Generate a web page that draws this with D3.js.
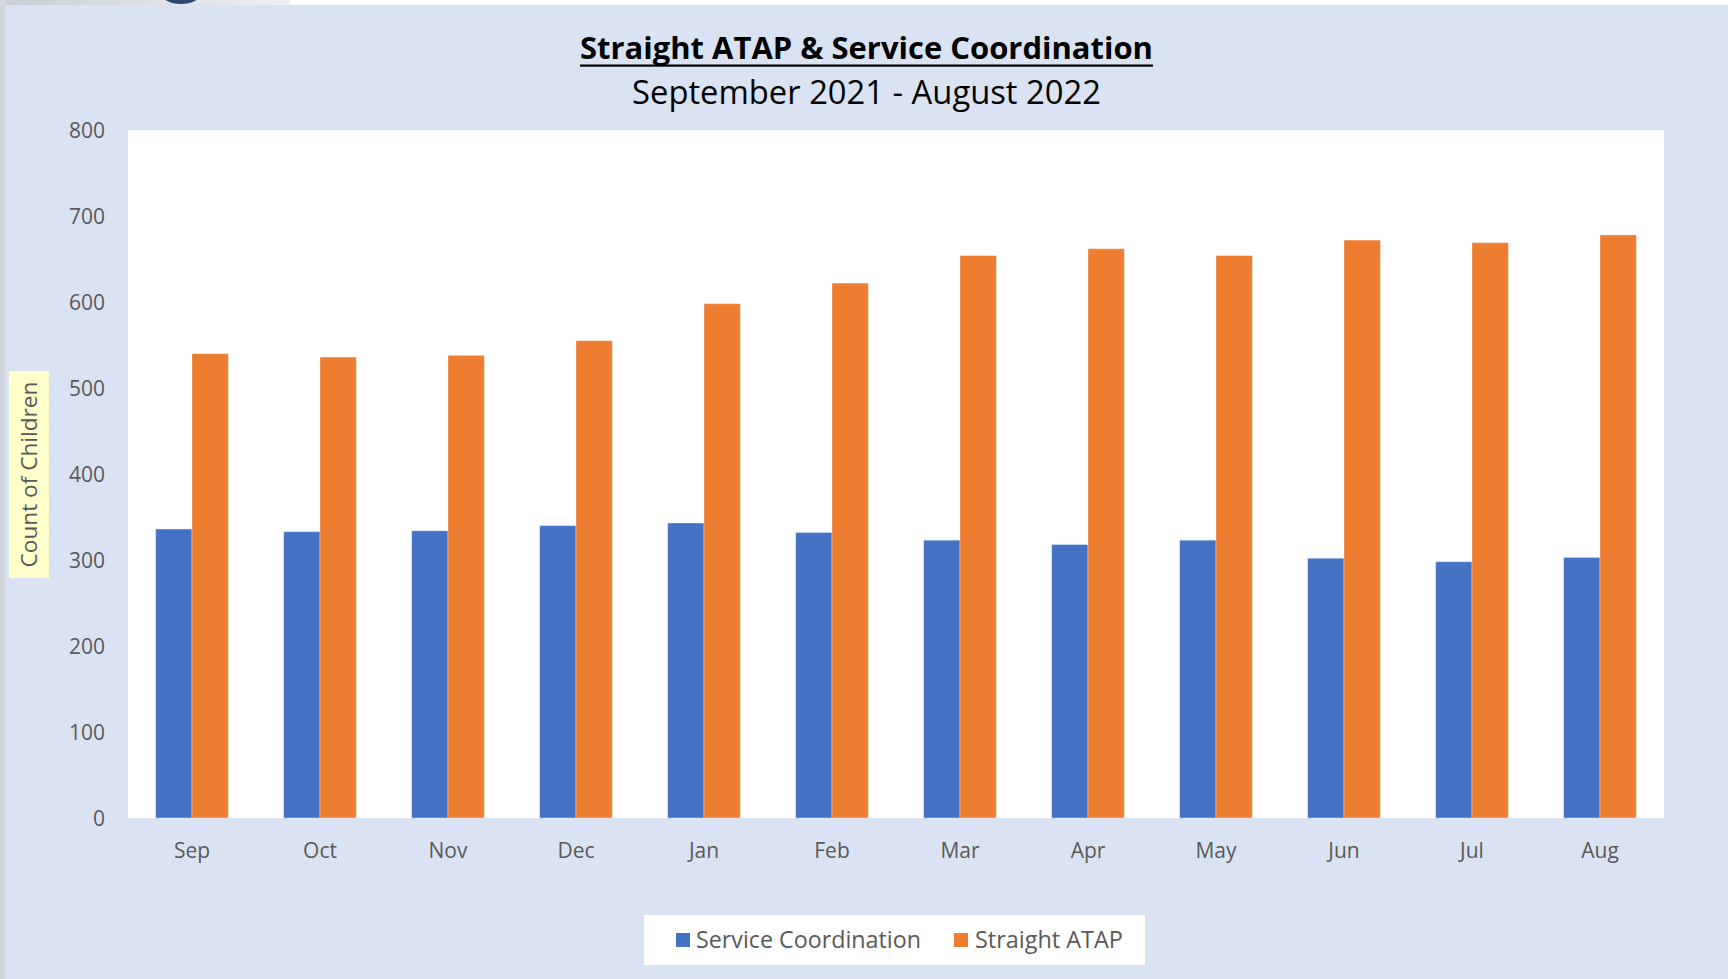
<!DOCTYPE html>
<html>
<head>
<meta charset="utf-8">
<script src="https://cdn.jsdelivr.net/npm/d3@7"></script>
<style>
  html, body { margin: 0; padding: 0; background: #ffffff; }
  svg { display: block; }
</style>
</head>
<body>
<svg id="chart" width="1733" height="979"></svg>
<script>
const months = ["Sep", "Oct", "Nov", "Dec", "Jan", "Feb", "Mar", "Apr", "May", "Jun", "Jul", "Aug"];
const seriesNames = ["Service Coordination", "Straight ATAP"];
const serviceCoordination = [336, 333, 334, 340, 343, 332, 323, 318, 323, 302, 298, 303];
const straightATAP = [540, 536, 538, 555, 598, 622, 654, 662, 654, 672, 669, 678];
const yTicks = [0, 100, 200, 300, 400, 500, 600, 700, 800];
const titleText = "Straight ATAP & Service Coordination";
const subtitleText = "September 2021 - August 2022";
const yAxisTitle = "Count of Children";

const colors = { "Service Coordination": "#4472C4", "Straight ATAP": "#ED7D31" };
const FONT = "'Open Sans', 'Noto Sans', sans-serif";
const GRAY = "#595959";

const svg = d3.select("#chart");

// backdrop bits outside the chart panel
const grad = svg.append("defs").append("linearGradient").attr("id", "photo")
  .attr("x1", 0).attr("x2", 1).attr("y1", 0).attr("y2", 0);
grad.append("stop").attr("offset", "0%").attr("stop-color", "#c9cfd6");
grad.append("stop").attr("offset", "100%").attr("stop-color", "#eef0f2");
svg.append("rect").attr("x", 0).attr("y", 0).attr("width", 290).attr("height", 6).attr("fill", "url(#photo)");
svg.append("rect").attr("x", 0).attr("y", 0).attr("width", 6).attr("height", 979).attr("fill", "#d3d8de");
svg.append("ellipse").attr("cx", 181).attr("cy", -7).attr("rx", 20).attr("ry", 11).attr("fill", "#2c4a6e");

// chart panel
svg.append("rect").attr("x", 5).attr("y", 5).attr("width", 1723).attr("height", 974).attr("fill", "#DAE3F3");

const plot = { left: 128, right: 1664, top: 130, bottom: 818 };
svg.append("rect").attr("x", plot.left).attr("y", plot.top)
  .attr("width", plot.right - plot.left).attr("height", plot.bottom - plot.top).attr("fill", "#ffffff");

const x0 = d3.scaleBand().domain(months).range([plot.left, plot.right])
  .paddingInner(0.432).paddingOuter(0.216);
const x1 = d3.scaleBand().domain(seriesNames).range([0, x0.bandwidth()]).padding(0);
const y = d3.scaleLinear().domain([0, 800]).range([plot.bottom, plot.top]);

const rows = months.map((m, i) => ({
  month: m,
  values: [
    { key: seriesNames[0], value: serviceCoordination[i] },
    { key: seriesNames[1], value: straightATAP[i] }
  ]
}));

const groups = svg.append("g").selectAll("g").data(rows).join("g")
  .attr("transform", d => `translate(${x0(d.month)},0)`);
groups.selectAll("rect").data(d => d.values).join("rect")
  .attr("x", d => x1(d.key))
  .attr("y", d => y(d.value))
  .attr("width", x1.bandwidth())
  .attr("height", d => y(0) - y(d.value))
  .attr("fill", d => colors[d.key])
  .attr("stroke", "#ffffff").attr("stroke-opacity", 0.35).attr("stroke-width", 1);

// y axis (labels only)
const yAxis = d3.axisLeft(y).tickValues(yTicks).tickSize(0).tickPadding(0);
const gy = svg.append("g").attr("transform", "translate(105,0)").call(yAxis);
gy.select(".domain").remove();
gy.selectAll("text").attr("font-family", FONT).attr("font-size", 21).attr("fill", GRAY).attr("dy", "0.35em");

// x axis (labels only)
const xAxis = d3.axisBottom(x0).tickSize(0).tickPadding(0);
const gx = svg.append("g").attr("transform", `translate(0,${plot.bottom})`).call(xAxis);
gx.select(".domain").remove();
gx.selectAll("text").attr("font-family", FONT).attr("font-size", 21).attr("fill", GRAY)
  .attr("y", 33).attr("dy", "0.35em");

function fitWidth(sel, target) {
  const fs = +sel.attr("font-size");
  const w = sel.node().getComputedTextLength();
  sel.attr("font-size", (fs * target / w).toFixed(2));
}

// title
const title = svg.append("text").attr("x", 866.5).attr("y", 59).attr("text-anchor", "middle")
  .attr("font-family", FONT).attr("font-weight", 700).attr("font-size", 28).attr("fill", "#000")
  .text(titleText);
fitWidth(title, 573);
const tw = title.node().getComputedTextLength();
svg.append("rect").attr("x", 866.5 - tw / 2).attr("y", 64.5).attr("width", tw).attr("height", 2.2).attr("fill", "#000");

const subtitle = svg.append("text").attr("x", 866.5).attr("y", 104).attr("text-anchor", "middle")
  .attr("font-family", FONT).attr("font-size", 28).attr("fill", "#000")
  .text(subtitleText);
fitWidth(subtitle, 469);

// y axis title with yellow box
svg.append("rect").attr("x", 9).attr("y", 371).attr("width", 40).attr("height", 207).attr("fill", "#FFFFCC");
const yt = svg.append("text").attr("transform", "translate(29,474.5) rotate(-90)")
  .attr("text-anchor", "middle").attr("dy", "0.35em")
  .attr("font-family", FONT).attr("font-size", 20).attr("fill", GRAY)
  .text(yAxisTitle);
fitWidth(yt, 186);

// legend
svg.append("rect").attr("x", 644).attr("y", 915).attr("width", 501).attr("height", 50).attr("fill", "#ffffff");
const legendPos = [{ sx: 676, tx: 696, w: 225 }, { sx: 954, tx: 975, w: 148 }];
const lg = svg.append("g").selectAll("g").data(seriesNames).join("g");
lg.append("rect").attr("x", (d, i) => legendPos[i].sx).attr("y", 933).attr("width", 14).attr("height", 14)
  .attr("fill", d => colors[d]);
lg.append("text").attr("x", (d, i) => legendPos[i].tx).attr("y", 940).attr("dy", "0.35em")
  .attr("font-family", FONT).attr("font-size", 21).attr("fill", GRAY)
  .text(d => d)
  .each(function (d, i) { fitWidth(d3.select(this), legendPos[i].w); });
</script>
</body>
</html>
